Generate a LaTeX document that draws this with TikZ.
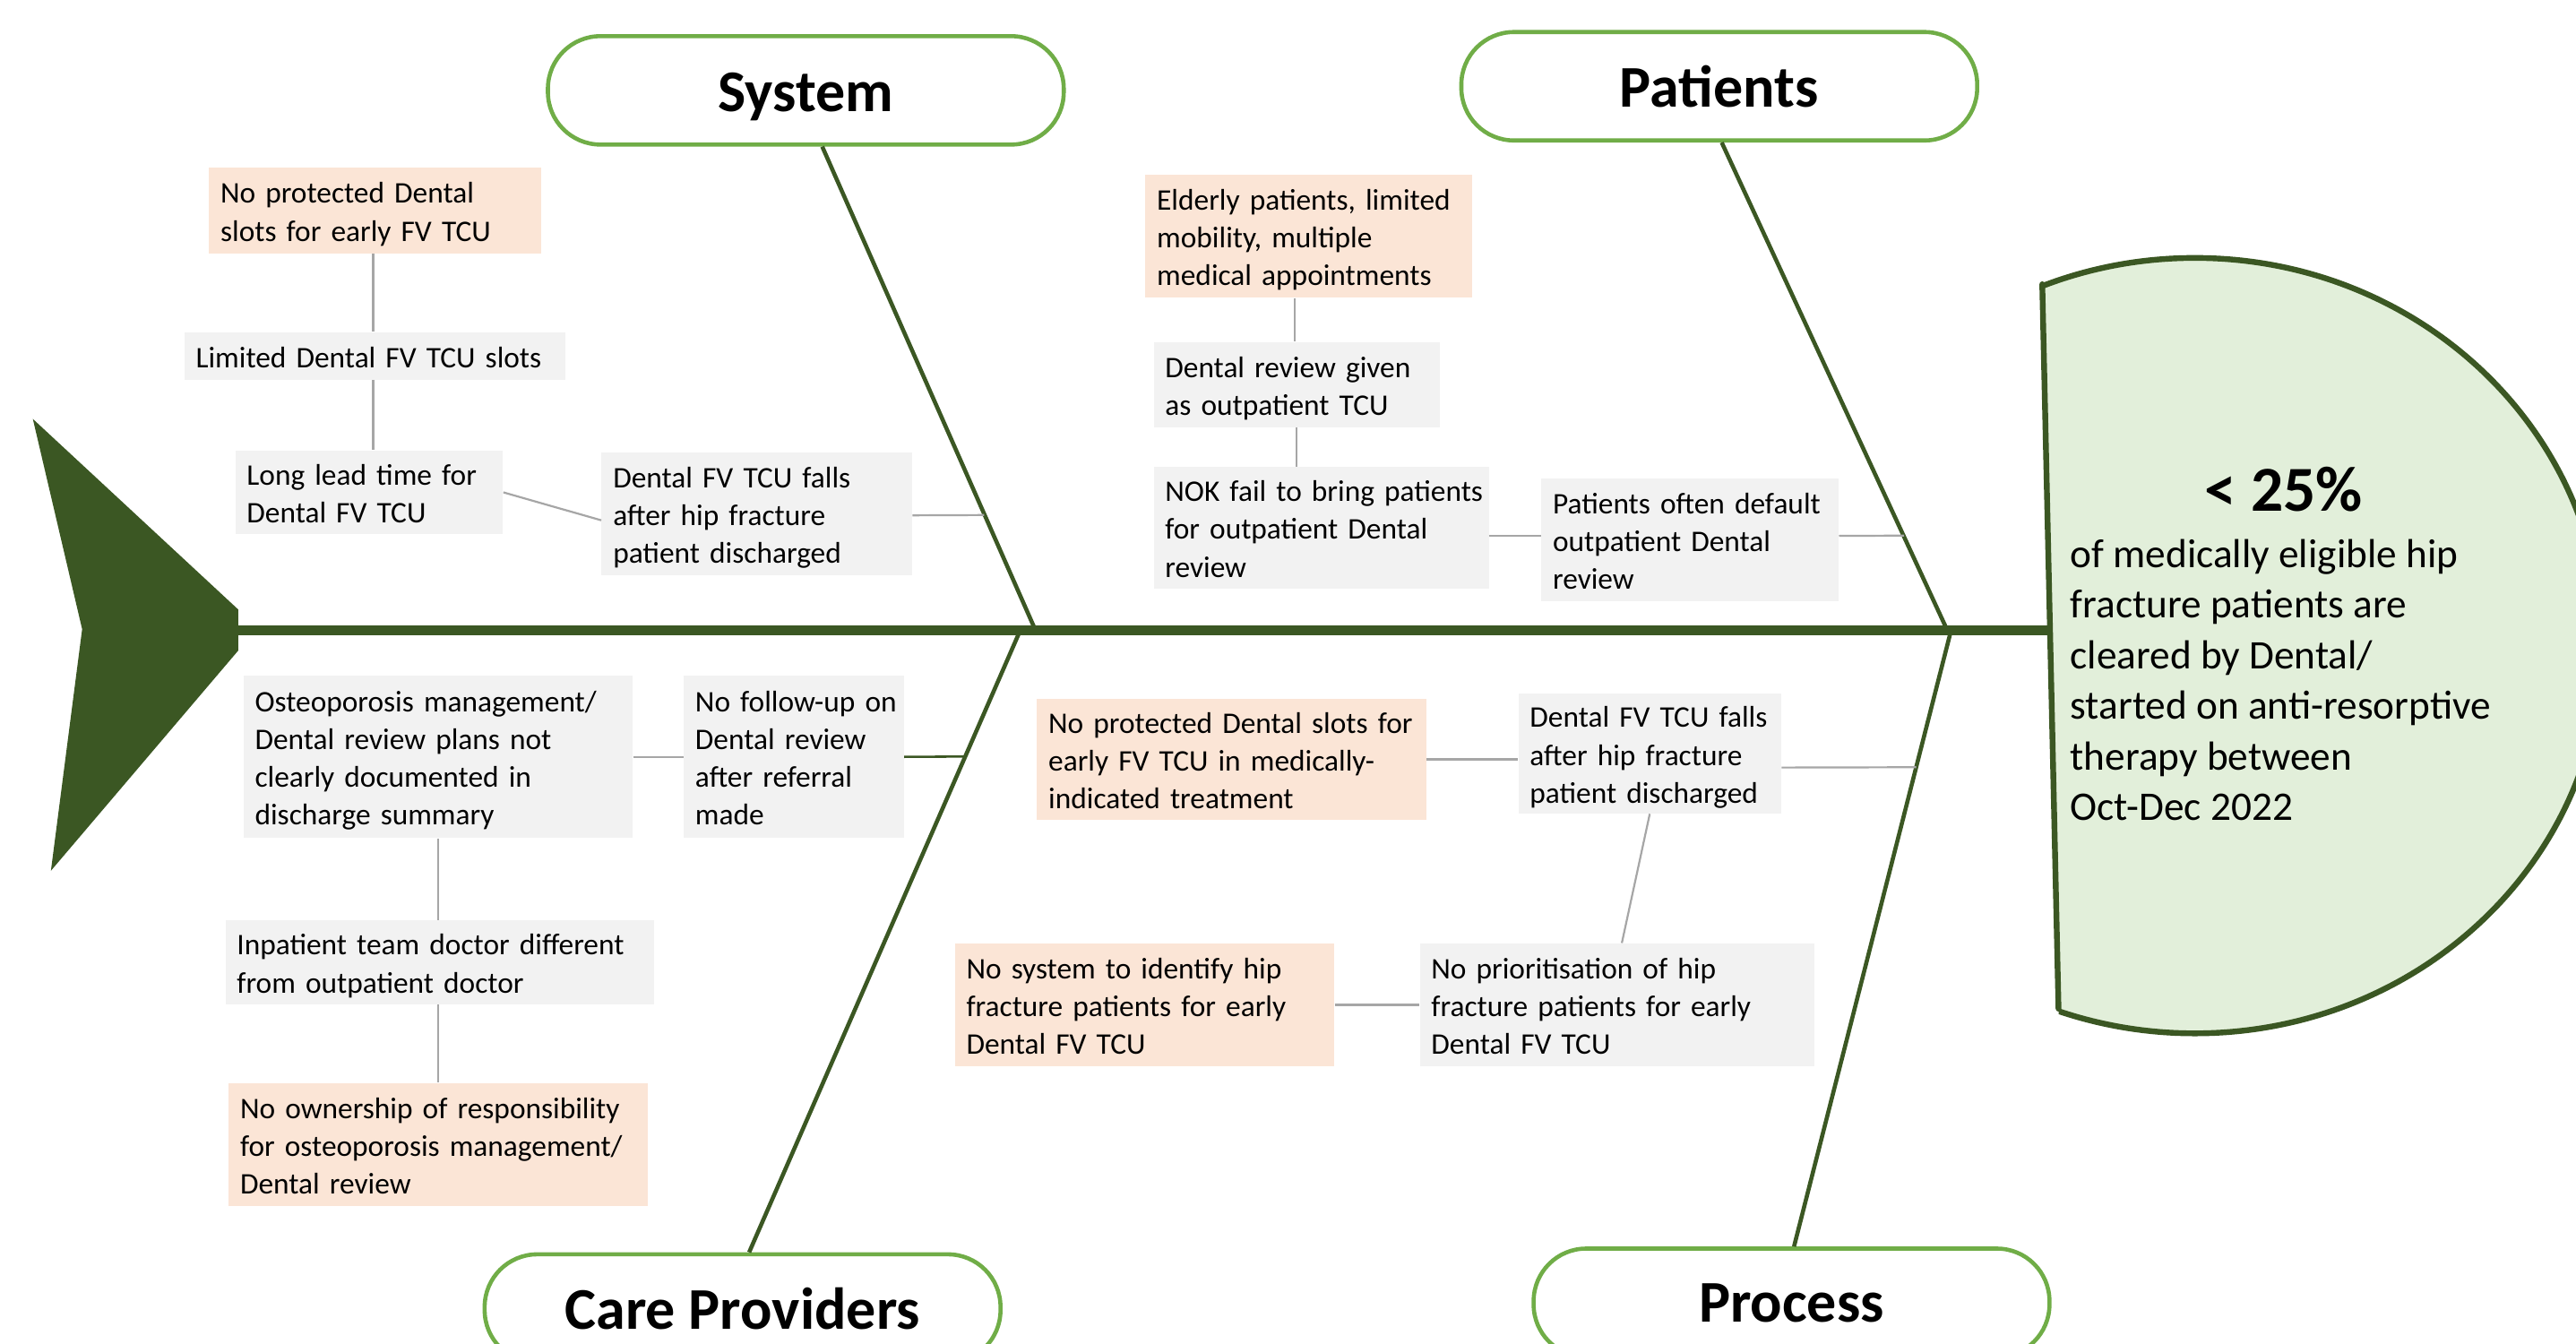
\documentclass[tikz,border=0pt]{standalone}
\usepackage{fontspec}
\setmainfont{Carlito}
\definecolor{dkgreen}{HTML}{3B5723}
\definecolor{ltgreen}{HTML}{70AD47}
\definecolor{headfill}{HTML}{E2EFDA}
\definecolor{peach}{HTML}{FBE5D6}
\definecolor{boxgray}{HTML}{F2F2F2}
\definecolor{linkgray}{HTML}{A6A6A6}
\newcommand\mylines[1]{\raisebox{-2.5pt}[\height][\depth]{\begin{tabular}{@{}l@{}}#1\end{tabular}}}
\begin{document}
\begin{tikzpicture}[x=1pt,y=1pt,
  cause/.style={anchor=north west, align=left, inner xsep=7pt, inner ysep=0pt,
    font=\fontsize{18.2}{23}\selectfont, text=black},
  graybox/.style={cause, fill=boxgray},
  peachbox/.style={cause, fill=peach},
  cat/.style={draw=ltgreen, line width=2.5pt, fill=white, rounded corners=32pt,
    minimum width=314pt, minimum height=66pt, inner sep=0pt,
    font=\fontsize{36}{40}\selectfont\bfseries},
  bone/.style={draw=dkgreen, line width=2.5pt},
  link/.style={draw=linkgray, line width=1.2pt},
  greenlink/.style={draw=dkgreen, line width=1.4pt},
]
\useasboundingbox (0,0) rectangle (1568,-818);
\clip (0,0) rectangle (1568,-818);
\fill[white] (0,0) rectangle (1568,-818);

% head
\begin{scope}
  \clip (1241.4,-100) -- (1255,-700) -- (1700,-700) -- (1700,-100) -- cycle;
  \draw[dkgreen, line width=3.5pt, fill=headfill] (1336,-393) ellipse [x radius=248, y radius=236];
\end{scope}
\coordinate (chordT) at (1243.1,-173);
\coordinate (chordB) at (1253,-614);
\draw[dkgreen, line width=3.5pt, line cap=round] (chordT) -- (chordB);

% spine
\coordinate (spineL) at (140,-383.5);
\coordinate (spineR) at (1249,-383.5);
\draw[dkgreen, line width=6pt] (spineL) -- (spineR);

% tail
\fill[dkgreen] (20,-255) -- (145,-371) -- (145,-396) -- (31,-530) -- (50,-383) -- cycle;

% category nodes
\node[cat] (sys) at (490.5,-55) {\raisebox{-4pt}[\height][\depth]{System}};
\node[cat] (pat) at (1046.5,-52.5) {Patients};
\node[cat] (care) at (452,-796.5) {Care Providers};
\node[cat] (proc) at (1090.5,-793) {Process};

% bones
\coordinate (sysj) at (630,-383);
\coordinate (patj) at (1185,-383);
\coordinate (carej) at (620,-386);
\coordinate (procj) at (1187,-386);
\draw[bone] ([xshift=10pt]sys.south) -- (sysj);
\draw[bone] ([xshift=1.5pt]pat.south) -- (patj);
\draw[bone] ([xshift=4pt]care.north) -- (carej);
\draw[bone] ([xshift=1.5pt]proc.north) -- (procj);

% System causes
\node[peachbox, text width=188pt, minimum height=52pt] (s1) at (127,-102) {\mylines{No protected Dental\\slots for early FV TCU}};
\node[graybox, text width=218pt, minimum height=29pt] (s2) at (112,-202) {\mylines{Limited Dental FV TCU slots}};
\node[graybox, text width=149pt, minimum height=51pt] (s3) at (143,-274) {\mylines{Long lead time for\\Dental FV TCU}};
\node[graybox, text width=175pt, minimum height=75pt] (s4) at (366,-275) {\mylines{Dental FV TCU falls\\after hip fracture\\patient discharged}};
\coordinate (s4b) at (599,-313.5);
\draw[link] ([xshift=-1pt]s1.south) -- ([xshift=-1pt]s1.south |- s2.north);
\draw[link] ([xshift=-1pt]s1.south |- s2.south) -- ([xshift=-1pt]s1.south |- s3.north);
\draw[link] (s3.east) -- ([yshift=-4pt]s4.west);
\draw[link] ([yshift=-1pt]s4.east) -- (s4b);

% Patients causes
\node[peachbox, text width=185pt, minimum height=75pt] (p5) at (697,-106) {\mylines{Elderly patients, limited\\mobility, multiple\\medical appointments}};
\node[graybox, text width=160pt, minimum height=52pt] (p6) at (702,-208) {\mylines{Dental review given\\as outpatient TCU}};
\node[graybox, text width=190pt, minimum height=74pt] (p7) at (702,-284) {\mylines{NOK fail to bring patients\\for outpatient Dental\\review}};
\node[graybox, text width=167pt, minimum height=75pt] (p8) at (938,-291) {\mylines{Patients often default\\outpatient Dental\\review}};
\coordinate (p8b) at (1159,-326);
\draw[link] ([xshift=-1pt]p5.south -| p6.north) -- ([xshift=-1pt]p6.north);
\draw[link] (p6.south) -- (p6.south |- p7.north);
\draw[link] ([yshift=-5pt]p7.east) -- ([yshift=-5pt]p7.east -| p8.west);
\draw[link] ([yshift=2.5pt]p8.east) -- (p8b);

% Care Providers causes
\node[graybox, text width=223pt, minimum height=99pt] (c9) at (148,-411) {\mylines{Osteoporosis management/\\Dental review plans not\\clearly documented in\\discharge summary}};
\node[graybox, text width=120pt, minimum height=99pt] (c10) at (416,-411) {\mylines{No follow-up on\\Dental review\\after referral\\made}};
\node[graybox, text width=247pt, minimum height=51pt] (c11) at (137,-560) {\mylines{Inpatient team doctor different\\from outpatient doctor}};
\node[peachbox, text width=241pt, minimum height=75pt] (c12) at (139,-659) {\mylines{No ownership of responsibility\\for osteoporosis management/\\Dental review}};
\coordinate (c10b) at (587.6,-460.5);
\draw[link] (c9.east) -- (c10.west);
\draw[greenlink] (c10.east) -- (c10b);
\draw[link] (c9.south) -- (c9.south |- c11.north);
\draw[link] (c9.south |- c11.south) -- (c9.south |- c12.north);

% Process causes
\node[peachbox, text width=223pt, minimum height=74pt] (r13) at (631,-425) {\mylines{No protected Dental slots for\\early FV TCU in medically-\\indicated treatment}};
\node[graybox, text width=146pt, minimum height=73pt] (r14) at (924,-422) {\mylines{Dental FV TCU falls\\after hip fracture\\patient discharged}};
\node[peachbox, text width=217pt, minimum height=75pt] (r15) at (581,-574) {\mylines{No system to identify hip\\fracture patients for early\\Dental FV TCU}};
\node[graybox, text width=226pt, minimum height=75pt] (r16) at (864,-574) {\mylines{No prioritisation of hip\\fracture patients for early\\Dental FV TCU}};
\coordinate (r14b) at (1166.4,-467);
\draw[link] (r13.east) -- (r13.east -| r14.west);
\draw[link] ([yshift=-8.5pt]r14.east) -- (r14b);
\draw[link] (r14.south) -- ([xshift=3pt]r16.north);
\draw[link] (r15.east) -- (r16.west);

% head text
\node[font=\fontsize{39}{44}\selectfont\bfseries, inner sep=0pt] (pct) at (1390,-298) {< 25\%};
\node[anchor=north west, align=left, inner sep=0pt, font=\fontsize{24.7}{30.8}\selectfont] (htxt) at (1260,-328)
  {of medically eligible hip\\fracture patients are\\cleared by Dental/\\started on anti-resorptive\\therapy between\\Oct-Dec 2022};
\end{tikzpicture}
\end{document}
